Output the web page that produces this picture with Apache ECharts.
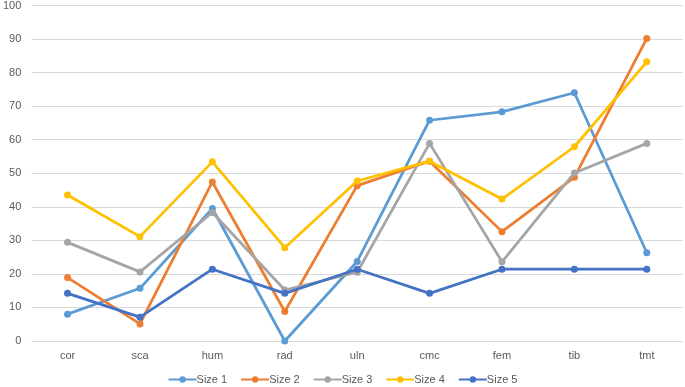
<!DOCTYPE html>
<html>
<head>
<meta charset="utf-8">
<script src="https://cdn.jsdelivr.net/npm/echarts@6/dist/echarts.min.js"></script>
<style>
html, body { margin: 0; padding: 0; background: #fff; }
#main { width: 685px; height: 387px; }
</style>
</head>
<body>
<div id="main"></div>
<script>
// categories (bones)
const categories = ['cor', 'sca', 'hum', 'rad', 'uln', 'cmc', 'fem', 'tib', 'tmt']

// series values
const size1 = [8, 15.7, 39.5, 0, 23.7, 65.8, 68.3, 74, 26.3]
const size2 = [18.9, 5.1, 47.4, 8.8, 46.3, 53.6, 32.6, 48.8, 90.2]
const size3 = [29.4, 20.6, 38.3, 15.2, 20.5, 58.9, 23.6, 50.1, 58.9]
const size4 = [43.5, 31.1, 53.4, 27.8, 47.7, 53.6, 42.3, 57.9, 83.2]
const size5 = [14.2, 7.1, 21.4, 14.2, 21.4, 14.2, 21.4, 21.4, 21.4]

const seriesNames = ['Size 1', 'Size 2', 'Size 3', 'Size 4', 'Size 5']
const seriesData = [size1, size2, size3, size4, size5]
const colors = ['#5B9BD5', '#ED7D31', '#A5A5A5', '#FFC000', '#4472C4']

const chart = echarts.init(document.getElementById('main'), null, { renderer: 'canvas' })

const option = {
  backgroundColor: '#ffffff',
  color: colors,
  animation: false,
  textStyle: { fontFamily: 'Liberation Sans, Arial, sans-serif' },
  grid: {
    left: 27,
    right: 2,
    top: 5,
    bottom: 46,
    containLabel: false
  },
  legend: {
    bottom: -3,
    left: 'center',
    itemWidth: 28,
    itemHeight: 8,
    itemGap: 13,
    textStyle: { color: '#595959', fontSize: 11, padding: [0, 0, 0, -5] },
    data: seriesNames
  },
  xAxis: {
    type: 'category',
    data: categories,
    boundaryGap: true,
    axisLine: { show: false },
    axisTick: { show: false },
    axisLabel: { color: '#595959', fontSize: 11, margin: 9 },
    splitLine: { show: false }
  },
  yAxis: {
    type: 'value',
    min: 0,
    max: 100,
    interval: 10,
    axisLine: { show: false },
    axisTick: { show: false },
    axisLabel: { color: '#595959', fontSize: 11, margin: 10 },
    splitLine: { lineStyle: { color: '#D9D9D9', width: 1 } }
  },
  series: seriesNames.map((name, i) => ({
    name: name,
    type: 'line',
    data: seriesData[i],
    symbol: 'circle',
    symbolSize: 7,
    lineStyle: { width: 2.75 },
    itemStyle: { color: colors[i] },
    z: 2 + i
  }))
}

chart.setOption(option)
</script>
</body>
</html>
